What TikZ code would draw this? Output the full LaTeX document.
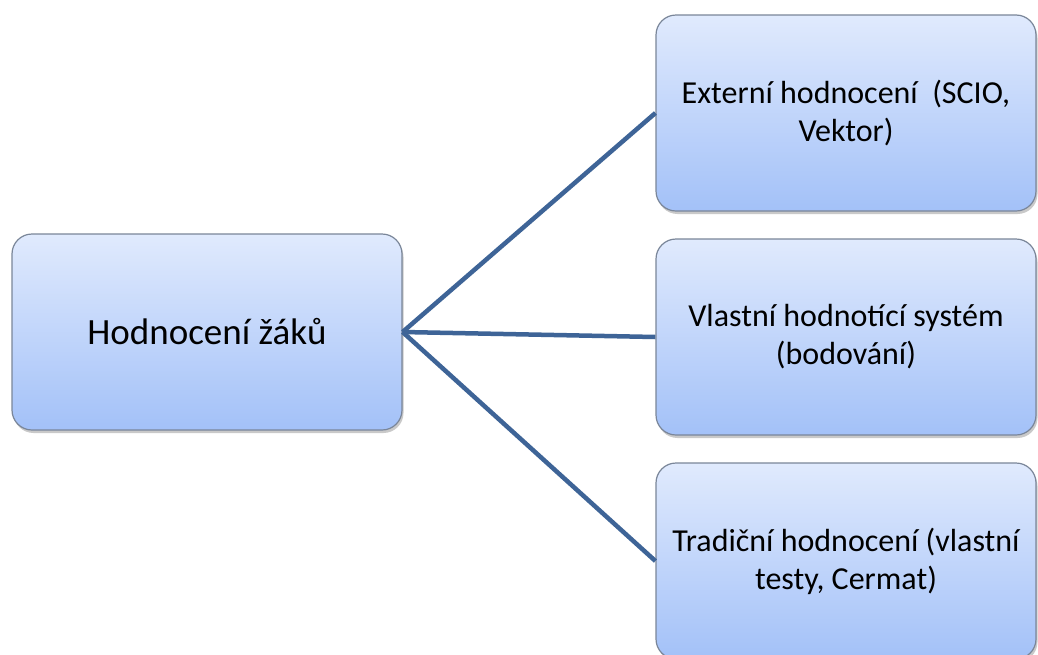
\documentclass[tikz,border=0pt]{standalone}
\usepackage{fontspec}
\setmainfont{Carlito}
\usetikzlibrary{shadows}
\definecolor{boxtop}{HTML}{E0EAFD}
\definecolor{boxbot}{HTML}{A3C1F8}
\definecolor{boxline}{HTML}{7A8699}
\definecolor{linkblue}{HTML}{3E6497}
\tikzset{
  card/.style={draw=boxline, line width=1.2pt, rounded corners=20pt,
    top color=boxtop, bottom color=boxbot, align=center,
    minimum width=380pt, minimum height=196pt, inner sep=0pt,
    drop shadow={shadow xshift=1.5pt, shadow yshift=-3pt, opacity=0.35, fill=black!60}},
  cardtext/.style={font=\fontsize{32}{38}\selectfont},
  link/.style={draw=linkblue, line width=4.5pt}
}
\begin{document}
\begin{tikzpicture}[x=1pt, y=-1pt]
  \clip (0,0) rectangle (1038,654);
  \fill[white] (0,0) rectangle (1038,654);
  \node[card, minimum width=390pt, font=\fontsize{37}{44}\selectfont] (root) at (207,332) {Hodnocení žáků};
  \node[card, cardtext] (ext) at (846,113) {Externí hodnocení\ \ (SCIO,\\Vektor)};
  \node[card, cardtext] (own) at (846,337) {Vlastní hodnotící systém\\(bodování)};
  \node[card, cardtext] (trad) at (846,561) {Tradiční hodnocení (vlastní\\testy, Cermat)};
  \draw[link] (root.east) -- (ext.west);
  \draw[link] (root.east) -- (own.west);
  \draw[link] (root.east) -- (trad.west);
\end{tikzpicture}
\end{document}
